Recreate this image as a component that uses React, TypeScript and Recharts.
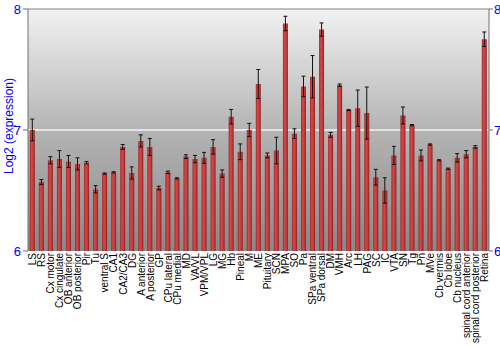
import React from 'react';
import {
  BarChart,
  Bar,
  XAxis,
  YAxis,
  CartesianGrid,
  ReferenceLine,
  ErrorBar,
} from 'recharts';

const regions = [
  'LS', 'RS', 'Cx motor', 'Cx cingulate', 'OB anterior', 'OB posterior', 'Pir', 'Tu',
  'ventral S', 'CA1', 'CA2/CA3', 'DG', 'A anterior', 'A posterior', 'GP', 'CPu lateral',
  'CPu medial', 'MD', 'VA/VL', 'VPM/VPL', 'LG', 'MG', 'Hb', 'Pineal', 'M', 'ME',
  'Pituitary', 'SCN', 'MPA', 'SO', 'Pa', 'SPa ventral', 'SPa dorsal', 'DM', 'VMH', 'Arc',
  'LH', 'PAG', 'SC', 'IC', 'VTA', 'SN', 'Tg', 'Pn', 'MVe', 'Cb vermis', 'Cb lobe',
  'Cb nucleus', 'spinal cord anterior', 'spinal cord posterior', 'Retina',
];

const expression = [
  7.0, 6.57, 6.75, 6.76, 6.74, 6.72, 6.73, 6.51,
  6.64, 6.65, 6.86, 6.645, 6.91, 6.86, 6.52, 6.65,
  6.6, 6.78, 6.76, 6.77, 6.86, 6.64, 7.11, 6.82, 7.0, 7.38,
  6.79, 6.83, 7.88, 6.97, 7.36, 7.44, 7.83, 6.96, 7.37, 7.165,
  7.18, 7.14, 6.61, 6.5, 6.79, 7.12, 7.04, 6.79, 6.88, 6.75, 6.68,
  6.77, 6.8, 6.86, 7.75,
];

const stdError = [
  0.09, 0.02, 0.03, 0.07, 0.05, 0.05, 0.01, 0.03,
  0.005, 0.005, 0.02, 0.05, 0.05, 0.07, 0.015, 0.01,
  0.005, 0.015, 0.03, 0.045, 0.06, 0.03, 0.06, 0.065, 0.055, 0.12,
  0.02, 0.11, 0.06, 0.04, 0.085, 0.175, 0.055, 0.02, 0.01, 0.005,
  0.15, 0.215, 0.065, 0.105, 0.075, 0.07, 0.005, 0.045, 0.005, 0.005, 0.005,
  0.035, 0.03, 0.01, 0.06,
];

const yTicks = [6, 7, 8];

const data = regions.map((name, i) => ({
  name,
  value: expression[i],
  err: stdError[i],
}));

const FONT = '"Liberation Sans", Arial, sans-serif';

function RegionTick(props: any) {
  const { x, y, payload } = props;
  return (
    <text
      x={x}
      y={y}
      transform={`rotate(-90, ${x}, ${y})`}
      textAnchor="end"
      dy="0.36em"
      fontSize={10}
      fontFamily={FONT}
      fill="#000"
    >
      {payload.value}
    </text>
  );
}

export default function App() {
  return (
    <div style={{ position: 'absolute', left: 0, top: 0, width: 500, height: 350, background: '#fff' }}>
      <BarChart
        width={500}
        height={350}
        data={data}
        margin={{ top: 9, right: 0, left: 0, bottom: 0 }}
        barCategoryGap="20%"
      >
        <defs>
          <linearGradient id="plotBg" x1="0" y1="0" x2="0" y2="1">
            <stop offset="0%" stopColor="#f2f2f2" />
            <stop offset="50%" stopColor="#b4b4b4" />
            <stop offset="100%" stopColor="#888888" />
          </linearGradient>
          <linearGradient id="barFill" x1="0" y1="0" x2="1" y2="0">
            <stop offset="0%" stopColor="#a52525" />
            <stop offset="35%" stopColor="#cf4a4a" />
            <stop offset="70%" stopColor="#c03a3a" />
            <stop offset="100%" stopColor="#8e1a1a" />
          </linearGradient>
        </defs>
        <CartesianGrid
          yAxisId="left"
          vertical={false}
          horizontalValues={[7]}
          stroke="#f4f4f4"
          strokeWidth={1.5}
          fill="url(#plotBg)"
          fillOpacity={1}
        />
        <XAxis
          dataKey="name"
          interval={0}
          height={99}
          axisLine={false}
          tickLine={false}
          tickSize={0}
          tickMargin={2}
          tick={<RegionTick />}
        />
        <YAxis
          yAxisId="left"
          domain={[6, 8]}
          ticks={yTicks}
          width={28}
          allowDataOverflow
          stroke="#707070"
          tickSize={5}
          tickMargin={2}
          tick={{ fill: '#0000ff', fontSize: 13, fontFamily: FONT }}
          label={{
            value: 'Log2 (expression)',
            angle: -90,
            position: 'center',
            dx: -5,
            dy: -4,
            fill: '#0000ff',
            fontSize: 12,
            fontFamily: FONT,
          }}
        />
        <YAxis
          yAxisId="right"
          orientation="right"
          domain={[6, 8]}
          ticks={yTicks}
          width={11}
          allowDataOverflow
          stroke="#707070"
          tickSize={4}
          tickMargin={1}
          tick={{ fill: '#0000ff', fontSize: 13, fontFamily: FONT }}
        />
        <ReferenceLine yAxisId="left" y={8} stroke="#808080" strokeWidth={1} />
        <Bar
          yAxisId="left"
          dataKey="value"
          fill="url(#barFill)"
          isAnimationActive={false}
        >
          <ErrorBar dataKey="err" width={2} stroke="#111" strokeWidth={1} />
        </Bar>
      </BarChart>
    </div>
  );
}
